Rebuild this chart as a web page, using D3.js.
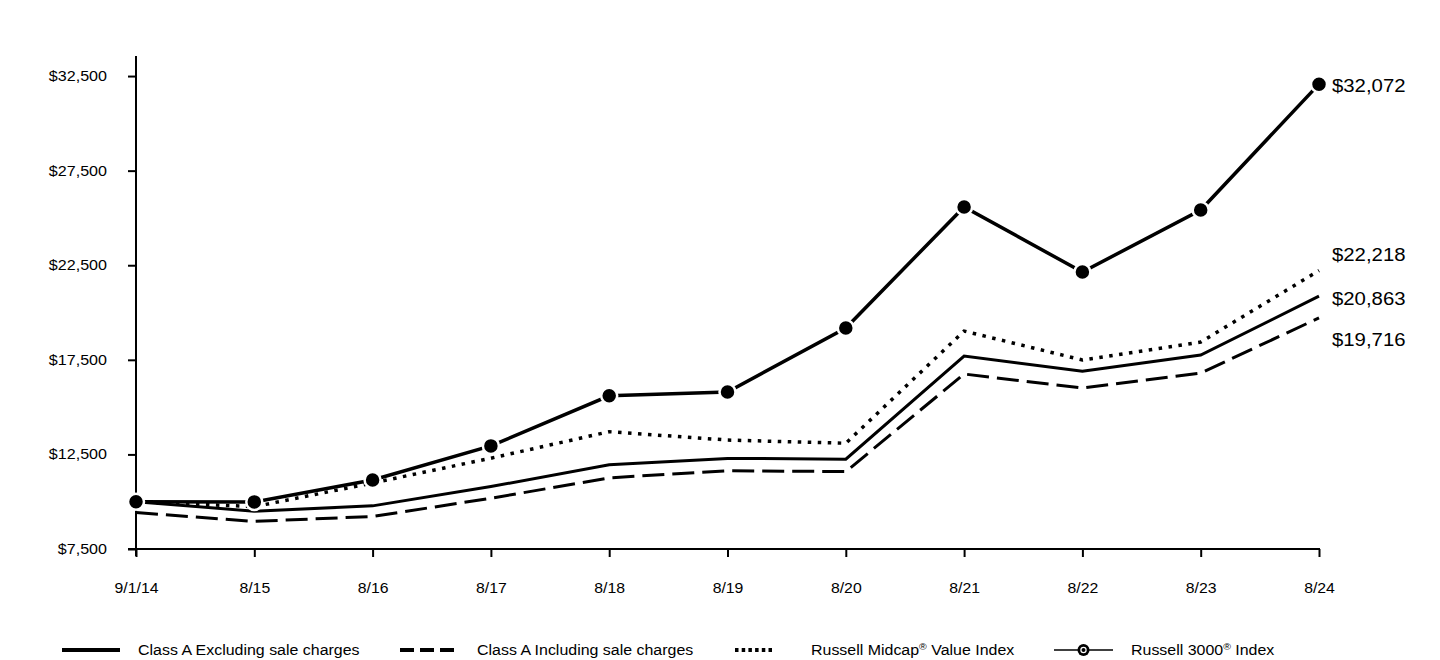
<!DOCTYPE html>
<html><head><meta charset="utf-8">
<script src="https://cdn.jsdelivr.net/npm/d3@7"></script>
<style>
html,body{margin:0;padding:0;background:#fff;}
svg{display:block;font-family:"Liberation Sans",Arial,sans-serif;}
</style></head>
<body>
<svg id="chart" width="1440" height="660"></svg>
<script>
const categories = ["9/1/14","8/15","8/16","8/17","8/18","8/19","8/20","8/21","8/22","8/23","8/24"];
const classAExcl = [10000, 9500, 9780, 10800, 11950, 12290, 12250, 17700, 16900, 17750, 20863];
const classAIncl = [9425, 8960, 9220, 10180, 11260, 11640, 11590, 16750, 16010, 16800, 19716];
const midcapValue = [10000, 9740, 10990, 12300, 13700, 13260, 13090, 19020, 17490, 18440, 22218];
const russell3000 = [10000, 9990, 11150, 12950, 15600, 15800, 19180, 25580, 22140, 25420, 32072];
const yTicks = [7500, 12500, 17500, 22500, 27500, 32500];
const legendLabels = ["Class A Excluding sale charges", "Class A Including sale charges", "Russell Midcap® Value Index", "Russell 3000® Index"];

const FONT = "Liberation Sans, Arial, sans-serif";
const svg = d3.select("#chart");
const x = d3.scalePoint().domain(categories).range([136, 1319]);
const y = d3.scaleLinear().domain([7500, 33560]).range([549, 56]);

// axes
const yAxis = svg.append("g").attr("transform","translate(136,0)")
  .call(d3.axisLeft(y).tickValues(yTicks).tickSize(8).tickPadding(21)
    .tickFormat(d => "$" + d3.format(",")(d)));
yAxis.select(".domain").attr("stroke","#000").attr("stroke-width",2).attr("d","M0,56V556");
yAxis.selectAll(".tick line").attr("stroke","#000").attr("stroke-width",2);
yAxis.selectAll(".tick text").each(function(){
  const t = d3.select(this); const tx = +t.attr("x");
  t.attr("x",0).attr("transform",`translate(${tx},0) scale(1.15,1)`);
}).attr("font-size",14).attr("fill","#000").attr("font-family",FONT);

const xAxis = svg.append("g").attr("transform","translate(0,549)")
  .call(d3.axisBottom(x).tickSize(8).tickPadding(26));
xAxis.select(".domain").attr("stroke","#000").attr("stroke-width",2).attr("d","M128,0H1320");
xAxis.selectAll(".tick line").attr("stroke","#000").attr("stroke-width",2);
xAxis.selectAll(".tick text").attr("transform","scale(1.13,1)")
  .attr("font-size",14).attr("fill","#000").attr("font-family",FONT);

const line = d3.line().x((d,i)=>x(categories[i])).y(d=>y(d));

const series = [
  {vals: classAIncl, dash: "22,8", w: 3},
  {vals: classAExcl, dash: null, w: 3},
  {vals: midcapValue, dash: "3.5,6.5", w: 3.5},
  {vals: russell3000, dash: null, w: 3.5}
];
series.forEach(s => {
  svg.append("path").datum(s.vals).attr("d", line)
    .attr("fill","none").attr("stroke","#000").attr("stroke-width", s.w)
    .attr("stroke-dasharray", s.dash).attr("stroke-linejoin","miter");
});
svg.selectAll("circle.mk").data(russell3000).enter().append("circle")
  .attr("class","mk")
  .attr("cx",(d,i)=>x(categories[i])).attr("cy",d=>y(d)).attr("r",8)
  .attr("fill","#000").attr("stroke","#fff").attr("stroke-width",2.5);

// end labels
const endVals = [russell3000[10], midcapValue[10], classAExcl[10], classAIncl[10]];
const endDy = [1, -16, 2, 22];
endVals.forEach((v,k) => {
  svg.append("text")
    .attr("transform", `translate(${x(categories[10]) + 13},${y(v) + endDy[k]}) scale(1.1,1)`)
    .attr("dy","0.35em").attr("font-size",18.5).attr("fill","#000")
    .text("$" + d3.format(",")(v));
});

// legend
const lg = svg.append("g");
const ly = 650;
const items = [
  {x0: 62, x1: 120, tx: 138, dash: null},
  {x0: 400, x1: 458, tx: 477, dash: "14,6"},
  {x0: 735, x1: 773, tx: 811, dash: "3.5,3.2"},
  {x0: 1054, x1: 1113, tx: 1131, dash: null, marker: true}
];
items.forEach((it,k) => {
  lg.append("line").attr("x1",it.x0).attr("x2",it.x1).attr("y1",ly).attr("y2",ly)
    .attr("stroke","#000").attr("stroke-width", it.marker ? 1.5 : 4)
    .attr("stroke-dasharray", it.dash);
  if (it.marker) {
    const cx = (it.x0 + it.x1)/2;
    lg.append("circle").attr("cx",cx).attr("cy",ly).attr("r",6).attr("fill","#000");
    lg.append("circle").attr("cx",cx).attr("cy",ly).attr("r",2.6).attr("fill","none")
      .attr("stroke","#fff").attr("stroke-width",1.2);
  }
  const t = lg.append("text").attr("transform",`translate(${it.tx},${ly}) scale(1.1,1)`)
    .attr("dy","0.35em").attr("font-size",14.5).attr("fill","#000");
  const lab = legendLabels[k];
  const idx = lab.indexOf("®");
  if (idx >= 0) {
    t.append("tspan").text(lab.slice(0, idx));
    t.append("tspan").attr("font-size",9.5).attr("dy",-5.5).text("®");
    t.append("tspan").attr("dy",5.5).text(lab.slice(idx+1));
  } else t.text(lab);
});
</script>
</body></html>
